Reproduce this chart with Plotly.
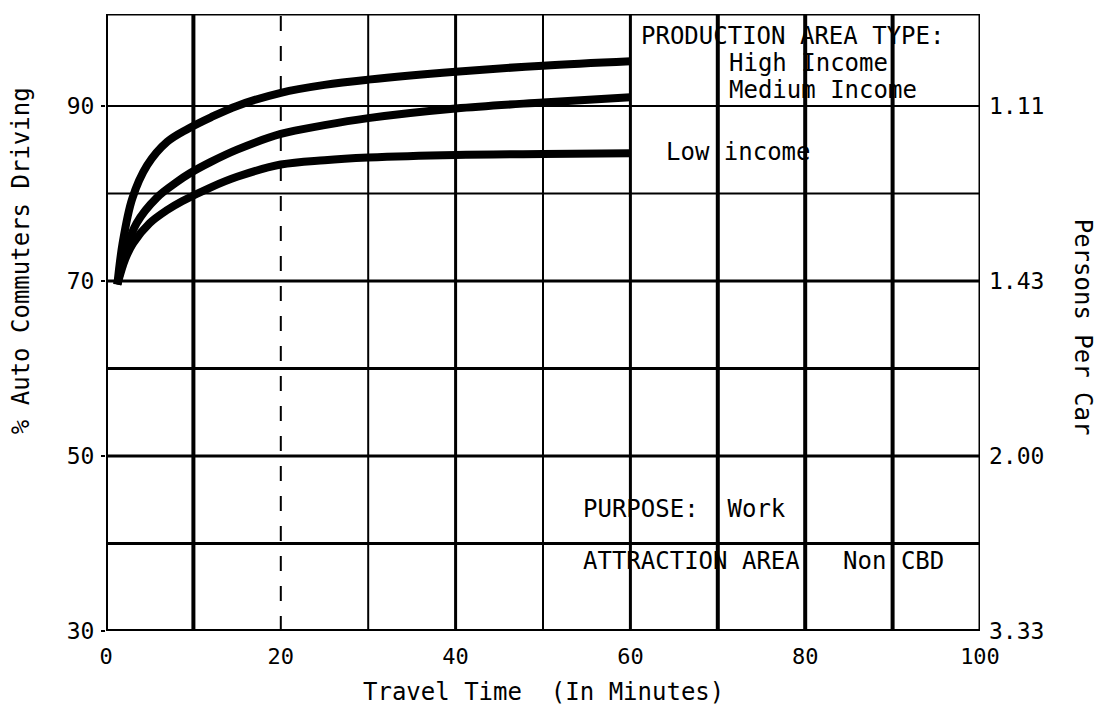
import plotly.graph_objects as go

# ---- data ----
high_x = [1.3, 1.9, 3.0, 4.7, 7.0, 9.4, 12, 15, 20, 25, 30, 40, 50, 60]
high_y = [69.6, 74.3, 79.4, 83.2, 85.9, 87.4, 88.7, 90.0, 91.5, 92.4, 93.0, 93.9, 94.6, 95.1]
med_x = [1.3, 2.3, 3.5, 5.8, 8.1, 9.6, 12, 15, 20, 25, 30, 40, 50, 60]
med_y = [69.6, 73.6, 76.6, 79.5, 81.3, 82.3, 83.6, 85.0, 86.8, 87.8, 88.6, 89.7, 90.4, 91.0]
low_x = [1.3, 2.2, 3.1, 5.0, 7.0, 8.7, 12, 15, 20, 25, 30, 40, 50, 60]
low_y = [69.6, 72.5, 74.3, 76.6, 78.1, 79.1, 80.7, 81.9, 83.3, 83.8, 84.1, 84.4, 84.5, 84.6]

x_ticks = [0, 20, 40, 60, 80, 100]
y_ticks = [30, 50, 70, 90]
right_ticks = [90, 70, 50, 30]
right_labels = ["%.2f" % (100.0 / v) for v in right_ticks]

h_grid = [90, 80, 70, 60, 50, 40]
h_width = [2, 2, 3, 3, 3, 3]
v_grid = [10, 20, 30, 40, 50, 60, 70, 80, 90]
v_width = [4, 2, 2, 3, 2, 3, 4, 4, 4]
v_dash = ["solid", "longdash", "solid", "solid", "solid", "solid", "solid", "solid", "solid"]

FONT = "DejaVu Sans Mono"
Y_TOP = 100.5

fig = go.Figure()
for xs, ys in [(high_x, high_y), (med_x, med_y), (low_x, low_y)]:
    fig.add_trace(go.Scatter(x=xs, y=ys, mode="lines",
                             line=dict(color="black", width=8, shape="spline", smoothing=1.0),
                             showlegend=False, hoverinfo="skip"))
# invisible trace for right axis
fig.add_trace(go.Scatter(x=[0], y=[30], yaxis="y2", mode="markers", marker=dict(opacity=0),
                         showlegend=False, hoverinfo="skip"))

shapes = []
for g, w in zip(h_grid, h_width):
    shapes.append(dict(type="line", xref="x", yref="y", x0=0, x1=100, y0=g, y1=g,
                       line=dict(color="black", width=w), layer="below"))
for g, w, d in zip(v_grid, v_width, v_dash):
    shapes.append(dict(type="line", xref="x", yref="y", x0=g, x1=g, y0=30, y1=Y_TOP,
                       line=dict(color="black", width=w, dash=d), layer="below"))
# borders
shapes.append(dict(type="line", xref="x", yref="y", x0=0, x1=100, y0=30, y1=30, line=dict(color="black", width=4)))
shapes.append(dict(type="line", xref="x", yref="y", x0=0, x1=100, y0=Y_TOP, y1=Y_TOP, line=dict(color="black", width=3)))
shapes.append(dict(type="line", xref="x", yref="y", x0=0, x1=0, y0=29.2, y1=Y_TOP, line=dict(color="black", width=4)))
shapes.append(dict(type="line", xref="x", yref="y", x0=100, x1=100, y0=30, y1=Y_TOP, line=dict(color="black", width=3)))

ann_font = dict(family=FONT, size=24, color="black")
annotations = [
    dict(x=61.0, y=98.0, text="PRODUCTION AREA TYPE:"),
    dict(x=71.0, y=94.9, text="High Income"),
    dict(x=71.0, y=91.8, text="Medium Income"),
    dict(x=63.9, y=84.7, text="Low income"),
    dict(x=54.4, y=43.9, text="PURPOSE:  Work"),
    dict(x=54.4, y=38.0, text="ATTRACTION AREA   Non CBD"),
]
for a in annotations:
    a.update(xref="x", yref="y", xanchor="left", yanchor="middle", showarrow=False, font=ann_font)

annotations += [
    dict(xref="paper", yref="paper", x=0.5, y=-0.099, text="Travel Time  (In Minutes)", showarrow=False,
         xanchor="center", yanchor="middle", font=ann_font),
    dict(xref="paper", yref="paper", x=-0.098, y=0.60, text="% Auto Commuters Driving", showarrow=False,
         textangle=-90, xanchor="center", yanchor="middle", font=ann_font),
    dict(xref="paper", yref="paper", x=1.118, y=0.493, text="Persons Per Car", showarrow=False,
         textangle=90, xanchor="center", yanchor="middle", font=ann_font),
]

fig.update_layout(
    width=1098, height=711,
    margin=dict(l=106, r=118, t=14, b=80),
    paper_bgcolor="white", plot_bgcolor="white",
    font=dict(family=FONT, size=23, color="black"),
    xaxis=dict(range=[0, 100], tickvals=x_ticks, showgrid=False, zeroline=False, showline=False,
               ticks="", ticklabelstandoff=10, tickfont=dict(size=22)),
    yaxis=dict(range=[30, Y_TOP], tickvals=y_ticks, showgrid=False, zeroline=False, showline=False,
               ticks="outside", ticklen=4, tickwidth=2, tickcolor="black", ticklabelstandoff=2),
    yaxis2=dict(range=[30, Y_TOP], overlaying="y", side="right", tickvals=right_ticks, ticktext=right_labels,
                showgrid=False, zeroline=False, showline=False, ticks="", ticklabelstandoff=8),
    shapes=shapes, annotations=annotations,
)

fig.write_html("out.html")
